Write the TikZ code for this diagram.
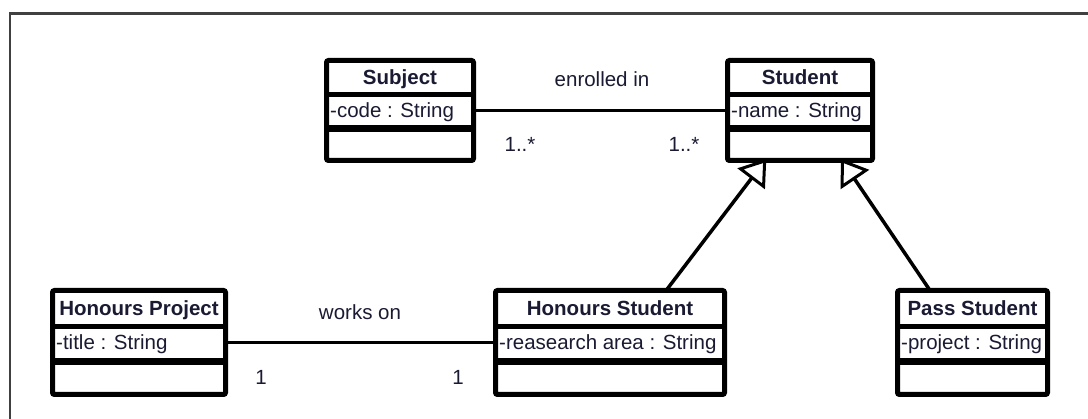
\documentclass[tikz,border=0pt]{standalone}
\usepackage{fontspec}
\setmainfont{Liberation Sans}
\usetikzlibrary{arrows.meta,calc}

\definecolor{ink}{HTML}{1A1A33}
\definecolor{framegray}{HTML}{404040}

\tikzset{
  classbox/.style={draw=black, line width=5pt, rounded corners=2pt, inner sep=0pt, outer sep=0pt, fill=white},
  thinsep/.style={draw=black, line width=5pt},
  thicksep/.style={draw=black, line width=7pt},
  classtitle/.style={text=ink, font=\bfseries\fontsize{20.5}{24}\selectfont, inner sep=0pt, anchor=base},
  classattr/.style={text=ink, font=\fontsize{20.5}{24}\selectfont, inner sep=0pt, anchor=base west},
  lbl/.style={text=ink, font=\fontsize{20.5}{24}\selectfont, inner sep=0pt, anchor=base},
  assoc/.style={draw=black, line width=3.5pt},
  gen/.style={draw=black, line width=3.5pt, -{Triangle[open, length=25pt, width=34pt, line width=3pt]}, shorten >=-2pt},
  frameline/.style={draw=framegray, line width=2.5pt},
}

% UML class box: name, left, top, right, bottom, class name, attribute
\newcommand{\umlclass}[7]{%
  \pgfmathsetmacro{\cxA}{(#2+#4)/2}%
  \pgfmathsetmacro{\cyA}{(#3+#5)/2}%
  \pgfmathsetmacro{\wA}{#4-#2-5}%
  \pgfmathsetmacro{\hA}{#5-#3-5}%
  \pgfmathsetmacro{\sA}{#3+0.352*(#5-#3)}%
  \pgfmathsetmacro{\sB}{#3+0.671*(#5-#3)}%
  \pgfmathsetmacro{\tA}{#3+0.248*(#5-#3)}%
  \pgfmathsetmacro{\aA}{#3+0.565*(#5-#3)}%
  \node[classbox, minimum width=\wA pt, minimum height=\hA pt] (#1) at (\cxA,\cyA) {};
  \draw[thinsep] ({#2+2.5},\sA) -- ({#4-2.5},\sA);
  \draw[thicksep] ({#2+2.5},\sB) -- ({#4-2.5},\sB);
  \node[classtitle] (#1-title) at (\cxA,\tA) {#6};
  \node[classattr] (#1-attr) at ({#2+6},\aA) {#7};
}

\begin{document}
\begin{tikzpicture}[x=1pt, y=-1pt]
  \useasboundingbox (0,0) rectangle (1088,419);
  \clip (0,0) rectangle (1088,419);
  \fill[white] (0,0) rectangle (1088,419);

  % outer frame (runs off the right and bottom edges)
  \draw[frameline] (10,440) -- (10,13.3) -- (1110,13.3);

  % classes
  \umlclass{subj}{324}{58}{476}{163}{Subject}{-code : String}
  \umlclass{stud}{725}{58}{875}{163}{Student}{-name : String}
  \umlclass{hproj}{50}{288}{228}{397}{Honours Project}{-title : String}
  \umlclass{hstud}{493}{288}{727}{397}{Honours Student}{-reasearch area : String}
  \umlclass{pstud}{895}{288}{1050}{397}{Pass Student}{-project : String}

  % associations
  \draw[assoc] (subj.east) -- (stud.west);
  \node[lbl] (enrolled) at (602,87) {enrolled in};
  \node[lbl] (multA) at (520,151.5) {1..*};
  \node[lbl] (multB) at (684,151.5) {1..*};

  \draw[assoc] (hproj.east) -- (hstud.west);
  \node[lbl] (workson) at (360,320) {works on};
  \node[lbl] (multC) at (261,385) {1};
  \node[lbl] (multD) at (458,385) {1};

  % generalisations
  \draw[gen] ($(hstud.north west)!0.745!(hstud.north east)$) -- ($(stud.south west)!0.259!(stud.south east)$);
  \draw[gen] ($(pstud.north west)!0.217!(pstud.north east)$) -- ($(stud.south west)!0.79!(stud.south east)$);
\end{tikzpicture}
\end{document}
